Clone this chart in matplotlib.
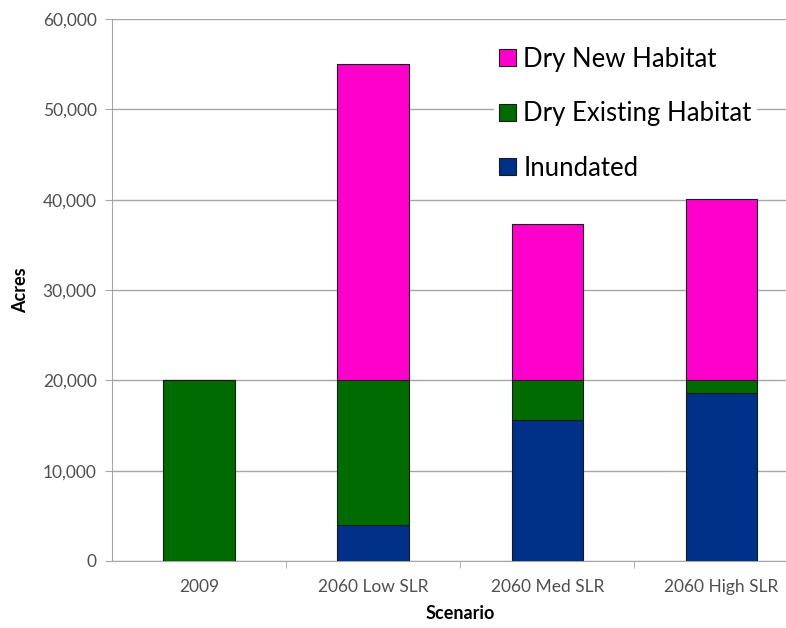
import numpy as np
import matplotlib.pyplot as plt

# scenario categories and stacked values (acres)
scenarios = ["2009", "2060 Low SLR", "2060 Med SLR", "2060 High SLR"]
inundated = [0, 4000, 15600, 18600]
dry_existing = [20000, 16000, 4400, 1400]
dry_new = [0, 35000, 17300, 20100]

plt.rcParams['font.family'] = ['Lato', 'DejaVu Sans']

fig = plt.figure(figsize=(7.86, 6.28), dpi=100)
ax = fig.add_axes([0.1425, 0.1067, 0.886, 0.863])

x = np.arange(len(scenarios))
w = 0.41
edge = dict(edgecolor="#1a1a1a", linewidth=0.8)

b1 = ax.bar(x, inundated, w, color="#003087", label="Inundated", zorder=3, **edge)
b2 = ax.bar(x, dry_existing, w, bottom=inundated, color="#006b00",
            label="Dry Existing Habitat", zorder=3, **edge)
bottom2 = np.array(inundated) + np.array(dry_existing)
b3 = ax.bar(x, dry_new, w, bottom=bottom2, color="#ff00cc",
            label="Dry New Habitat", zorder=3, **edge)

ax.set_xlim(-0.5, len(scenarios) - 0.5)
ax.set_ylim(0, 60000)
ax.set_yticks(np.arange(0, 60001, 10000))
ax.set_yticklabels([f"{v:,}" for v in range(0, 60001, 10000)])
ax.yaxis.grid(True, color="#a6a6a6", linewidth=1)
ax.set_axisbelow(True)

ax.set_xticks(x)
ax.set_xticklabels(scenarios)
ax.set_xticks(np.arange(0.5, len(scenarios) - 0.5, 1), minor=True)
ax.tick_params(axis="x", which="major", length=0, pad=13)
ax.tick_params(axis="x", which="minor", length=5, color="#a6a6a6")
ax.tick_params(axis="y", length=5, color="#a6a6a6", pad=6)
ax.tick_params(labelsize=12.5, labelcolor="#505050")

for s in ["top", "right"]:
    ax.spines[s].set_visible(False)
for s in ["left", "bottom"]:
    ax.spines[s].set_color("#a6a6a6")

ax.set_ylabel("Acres", fontsize=13, fontweight="bold", labelpad=10)
ax.set_xlabel("Scenario", fontsize=13, fontweight="bold", labelpad=7)

leg = ax.legend([b3, b2, b1], ["Dry New Habitat", "Dry Existing Habitat", "Inundated"],
                loc="upper left", bbox_to_anchor=(0.53, 0.982), fontsize=18.5,
                frameon=True, facecolor="white", edgecolor="none", framealpha=1,
                handlelength=0.65, handleheight=0.65, handletextpad=0.3,
                labelspacing=1.15, borderpad=0.2)
leg.set_zorder(5)

fig.savefig("out.png", dpi=100)
